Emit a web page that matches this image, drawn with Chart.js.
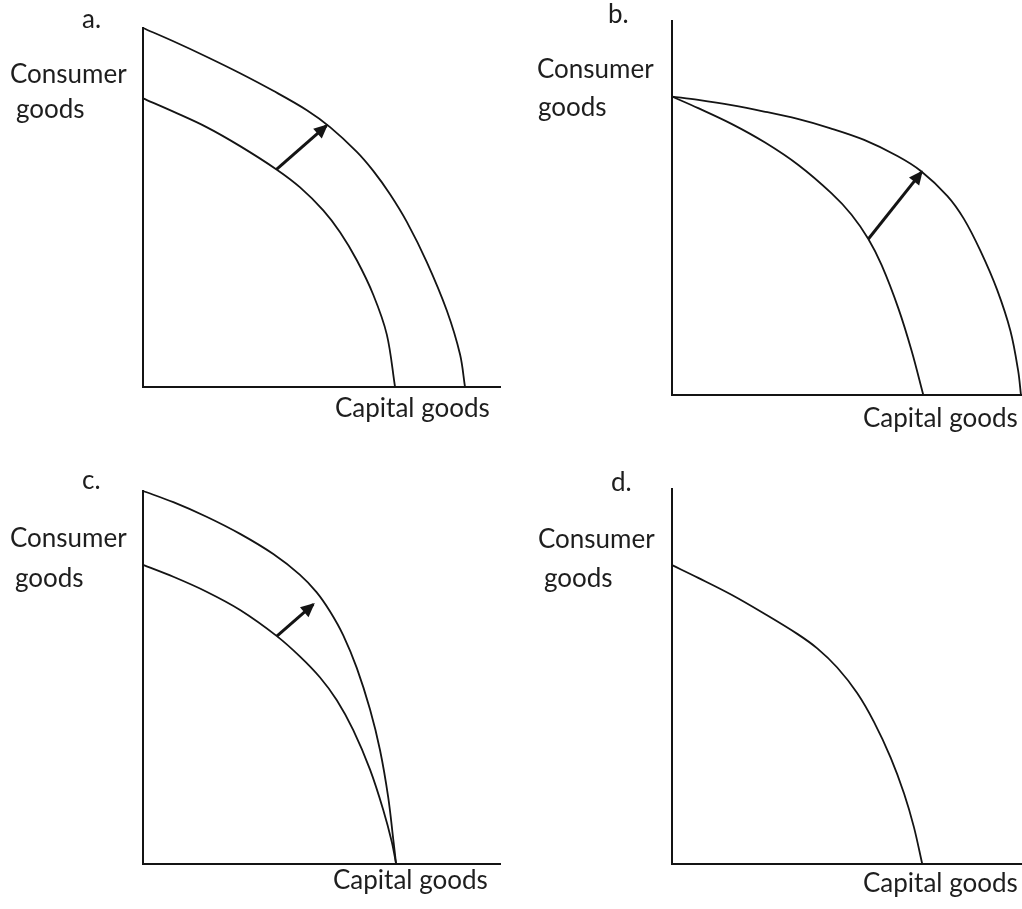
<!DOCTYPE html>
<html>
<head>
<meta charset="utf-8">
<script src="https://cdn.jsdelivr.net/npm/chart.js@4.4.1/dist/chart.umd.min.js"></script>
<style>
  html, body { margin: 0; padding: 0; background: #fff; }
  #wrap { position: relative; width: 1022px; height: 909px; overflow: hidden; background: #fff; }
  #wrap canvas { position: absolute; }
</style>
</head>
<body>
<div id="wrap">
  <canvas id="panelA" width="511" height="454" style="left:0;top:0"></canvas>
  <canvas id="panelB" width="511" height="454" style="left:511px;top:0"></canvas>
  <canvas id="panelC" width="511" height="455" style="left:0;top:454px"></canvas>
  <canvas id="panelD" width="511" height="455" style="left:511px;top:454px"></canvas>
</div>
<script>
// axis labels
const yLabel = ['Consumer', 'goods'];
const xLabel = 'Capital goods';

// a. whole frontier shifts out
const aOuterX = [0, 8.5, 17.8, 27.2, 36.5, 45.9, 52.4, 59.9, 64.5, 69.2, 73.9, 79.5, 85.1, 88.8, 90.2];
const aOuterY = [100, 96.3, 92.0, 87.4, 82.5, 77.1, 72.4, 65.5, 60.2, 53.7, 46.0, 34.8, 21.3, 9.1, 0];
const aInnerX = [0, 8.5, 17.8, 27.2, 37.4, 44.0, 50.5, 55.2, 59.9, 64.5, 68.3, 70.6];
const aInnerY = [80.4, 76.7, 72.4, 67.1, 60.6, 55.6, 49.2, 43.1, 35.3, 25.7, 14.6, 0];
const aArrowX = [37.4, 51.4];
const aArrowY = [60.6, 72.8];

// b. capital goods axis only
const bOuterX = [0, 7.5, 17.0, 26.3, 35.9, 45.3, 54.9, 64.4, 71.1, 78.7, 83.4, 88.2, 92.9, 96.7, 98.9, 99.7];
const bOuterY = [79.8, 78.9, 77.5, 75.8, 73.8, 71.3, 68.2, 63.9, 59.9, 53.2, 47.1, 38.4, 28.1, 17.1, 6.5, 0];
const bInnerX = [0, 7.5, 17.0, 26.6, 36.1, 45.6, 51.3, 56.1, 59.9, 64.7, 68.5, 71.8];
const bInnerY = [79.8, 76.7, 72.5, 67.5, 61.5, 53.9, 48.2, 41.7, 34.7, 23.1, 11.7, 0];
const bArrowX = [56.1, 71.3];
const bArrowY = [41.7, 59.6];

// c. consumer goods axis only
const cOuterX = [0, 8.5, 17.8, 27.2, 36.5, 43.9, 48.6, 52.4, 56.1, 59.9, 63.6, 66.4, 68.7, 70.1, 70.9];
const cOuterY = [100, 97.0, 93.1, 88.5, 83.1, 77.6, 72.9, 67.7, 61.3, 52.5, 41.4, 30.5, 17.8, 6.6, 0];
const cInnerX = [0, 8.5, 17.8, 27.2, 37.5, 44.0, 49.6, 54.3, 58.9, 63.6, 67.3, 69.7, 70.9];
const cInnerY = [80.2, 77.0, 73.0, 68.1, 61.1, 55.6, 50.0, 43.9, 35.9, 25.3, 14.5, 5.9, 0];
const cArrowX = [37.5, 47.7];
const cArrowY = [61.1, 69.6];

// d. no change
const dCurveX = [0, 7.5, 17.0, 26.3, 35.9, 41.5, 47.2, 52.9, 57.7, 62.5, 66.3, 69.1, 71.5];
const dCurveY = [79.7, 76.3, 71.8, 66.8, 61.3, 57.5, 52.4, 45.6, 37.9, 28.3, 18.8, 9.9, 0];

const ink = '#141414';
const textColor = '#1e1e1e';
const fontFamily = 'Lato, "Open Sans", sans-serif';

// size the font so "Capital goods" is as wide as in the picture
function fitFontSize(text, target) {
    const c = document.createElement('canvas').getContext('2d');
    c.font = '100px ' + fontFamily;
    return Math.round(100 * target / c.measureText(text).width * 2) / 2;
}
const fontSize = fitFontSize(xLabel, 156);

const toPoints = (xs, ys) => xs.map((x, i) => ({ x: x, y: ys[i] }));

const panels = [
    {
        id: 'panelA', letter: 'a.',
        pad: { left: 143, top: 28, right: 11, bottom: 67 },
        curves: [[aOuterX, aOuterY], [aInnerX, aInnerY]],
        arrow: [aArrowX, aArrowY],
        text: { letter: [82, 28], consumer: [10, 83], goods: [16, 118], capital: [335, 417] }
    },
    {
        id: 'panelB', letter: 'b.',
        pad: { left: 161, top: 21, right: 0, bottom: 59 },
        curves: [[bOuterX, bOuterY], [bInnerX, bInnerY]],
        arrow: [bArrowX, bArrowY],
        text: { letter: [97, 23], consumer: [26, 78], goods: [27, 116], capital: [352, 427] }
    },
    {
        id: 'panelC', letter: 'c.',
        pad: { left: 143, top: 37, right: 11, bottom: 45 },
        curves: [[cOuterX, cOuterY], [cInnerX, cInnerY]],
        arrow: [cArrowX, cArrowY],
        text: { letter: [82, 35], consumer: [10, 93], goods: [15, 133], capital: [333, 435] }
    },
    {
        id: 'panelD', letter: 'd.',
        pad: { left: 161, top: 35, right: 0, bottom: 45 },
        curves: [[dCurveX, dCurveY]],
        arrow: null,
        text: { letter: [100, 37], consumer: [27, 94], goods: [33, 133], capital: [352, 438] }
    }
];

const panelText = {
    id: 'panelText',
    afterDraw(chart, args, opts) {
        const ctx = chart.ctx;
        ctx.save();
        ctx.fillStyle = textColor;
        ctx.font = fontSize + 'px ' + fontFamily;
        ctx.textAlign = 'left';
        ctx.textBaseline = 'alphabetic';
        opts.items.forEach(t => ctx.fillText(t.text, t.x, t.y));
        ctx.restore();
    }
};

const arrowHeads = {
    id: 'arrowHeads',
    afterDatasetsDraw(chart) {
        const ctx = chart.ctx;
        chart.data.datasets.forEach((ds, i) => {
            if (!ds.arrow) return;
            const pts = chart.getDatasetMeta(i).data;
            const a = pts[pts.length - 2];
            const b = pts[pts.length - 1];
            const ang = Math.atan2(b.y - a.y, b.x - a.x);
            ctx.save();
            ctx.fillStyle = ds.borderColor;
            ctx.translate(b.x, b.y);
            ctx.rotate(ang);
            ctx.beginPath();
            ctx.moveTo(2, 0);
            ctx.lineTo(-12, -6.5);
            ctx.lineTo(-12, 6.5);
            ctx.closePath();
            ctx.fill();
            ctx.restore();
        });
    }
};

function axisOpts() {
    return {
        type: 'linear',
        min: 0,
        max: 100,
        grid: { display: false, drawTicks: false, tickLength: 0 },
        ticks: { display: false },
        border: { display: true, color: ink, width: 2 }
    };
}

function buildPanel(p) {
    const datasets = p.curves.map(c => ({
        data: toPoints(c[0], c[1]),
        showLine: true,
        borderColor: ink,
        borderWidth: 1.8,
        pointRadius: 0,
        tension: 0.35,
        clip: false
    }));

    if (p.arrow) {
        datasets.push({
            data: toPoints(p.arrow[0], p.arrow[1]),
            showLine: true,
            arrow: true,
            borderColor: ink,
            borderWidth: 3,
            pointRadius: 0,
            tension: 0,
            clip: false
        });
    }

    const t = p.text;
    const items = [
        { text: p.letter, x: t.letter[0], y: t.letter[1] },
        { text: yLabel[0], x: t.consumer[0], y: t.consumer[1] },
        { text: yLabel[1], x: t.goods[0], y: t.goods[1] },
        { text: xLabel, x: t.capital[0], y: t.capital[1] }
    ];

    new Chart(document.getElementById(p.id), {
        type: 'scatter',
        data: { datasets: datasets },
        options: {
            responsive: false,
            animation: false,
            layout: { padding: p.pad },
            plugins: {
                legend: { display: false },
                tooltip: { enabled: false },
                panelText: { items: items }
            },
            scales: { x: axisOpts(), y: axisOpts() }
        },
        plugins: [arrowHeads, panelText]
    });
}

panels.forEach(buildPanel);
</script>
</body>
</html>
